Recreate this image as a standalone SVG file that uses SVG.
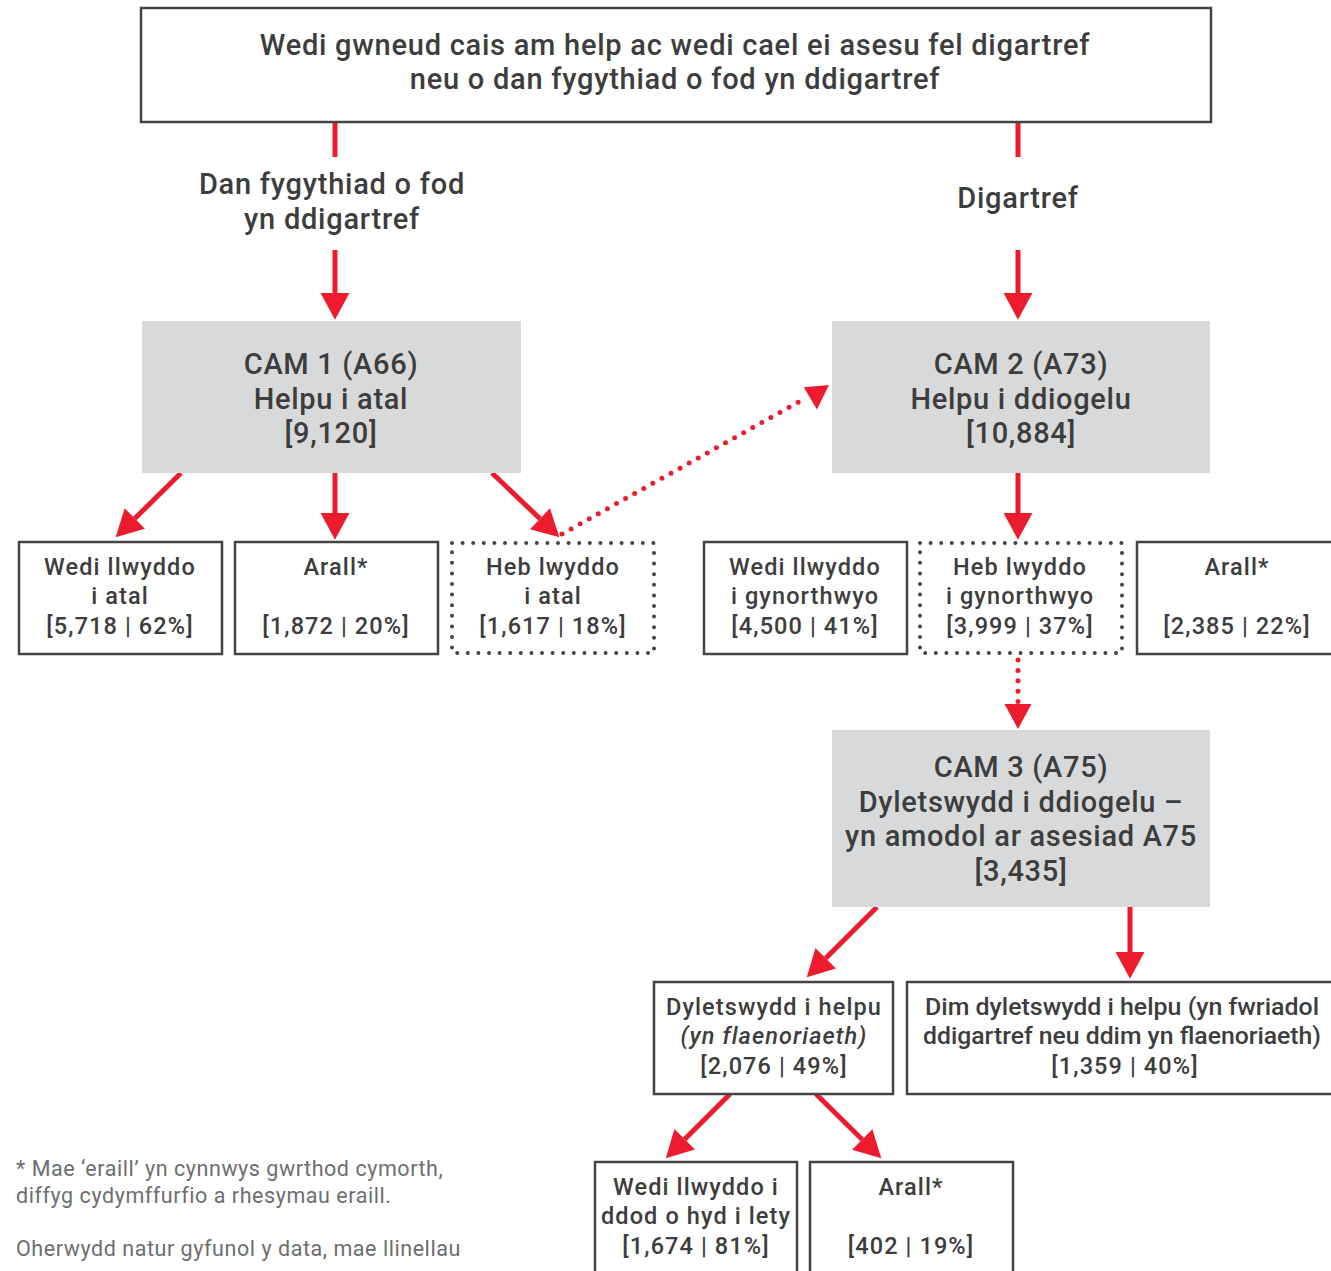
<svg xmlns="http://www.w3.org/2000/svg" width="1331" height="1271" viewBox="0 0 1331 1271">
<style>
text{font-family:Roboto,"Open Sans","Liberation Sans",sans-serif;fill:#3d3d3d;text-anchor:middle;font-weight:500}
.h{font-size:29px;letter-spacing:0.75px}
.cam{font-size:29px;letter-spacing:0.7px}
.b{font-size:23.5px;letter-spacing:1.1px}
.nl{letter-spacing:0}
.it{font-style:italic}
.fn{font-size:21.5px;font-weight:400;fill:#6d6e71;text-anchor:start;letter-spacing:0.55px}
.box{fill:#fff;stroke:#444;stroke-width:2.5}
.dot{fill:#fff;stroke:#444;stroke-width:4;stroke-dasharray:0 10.6;stroke-linecap:round}
.grey{fill:#d8d9db}
.ln{stroke:#ec1c2e;stroke-width:5;fill:none}
.dl{stroke:#ec1c2e;stroke-width:5;fill:none;stroke-dasharray:0 10.4;stroke-linecap:round}
.hd{fill:#ec1c2e}
</style>
<defs>
<marker id="ah" markerUnits="userSpaceOnUse" markerWidth="30" markerHeight="30" viewBox="0 -14 26 28" refX="0" refY="0" orient="auto">
<path d="M0,-13.5 L25,0 L0,13.5 Z" fill="#ec1c2e"/>
</marker>
</defs>
<rect width="1331" height="1271" fill="#fff"/>

<g id="connectors">
<line class="ln" x1="335" y1="122" x2="335" y2="157"/>
<line class="ln" x1="335" y1="250" x2="335" y2="293" marker-end="url(#ah)"/>
<line class="ln" x1="1018" y1="122" x2="1018" y2="157"/>
<line class="ln" x1="1018" y1="250" x2="1018" y2="293" marker-end="url(#ah)"/>
<line class="ln" x1="181" y1="473" x2="134.8" y2="518.5" marker-end="url(#ah)"/>
<line class="ln" x1="335" y1="473" x2="335" y2="513" marker-end="url(#ah)"/>
<line class="ln" x1="492" y1="473" x2="540" y2="518.7" marker-end="url(#ah)"/>
<line class="dl" x1="562" y1="534" x2="804" y2="399"/>
<polygon class="hd" points="803.8,387.2 829,385 816.9,409.4"/>
<line class="ln" x1="1018" y1="473" x2="1018" y2="513" marker-end="url(#ah)"/>
<line class="dl" x1="1018" y1="660" x2="1018" y2="702"/>
<polygon class="hd" points="1004.5,704 1031.5,704 1018,729"/>
<line class="ln" x1="877" y1="907" x2="825.7" y2="958.3" marker-end="url(#ah)"/>
<line class="ln" x1="1130" y1="907" x2="1130" y2="952" marker-end="url(#ah)"/>
<line class="ln" x1="730" y1="1094" x2="684.7" y2="1139.3" marker-end="url(#ah)"/>
<line class="ln" x1="816" y1="1094" x2="862.2" y2="1139.5" marker-end="url(#ah)"/>
</g>

<g id="top">
<rect class="box" x="141" y="8" width="1070" height="114"/>
<text class="h" x="675" y="55">Wedi gwneud cais am help ac wedi cael ei asesu fel digartref</text>
<text class="h" x="675" y="89">neu o dan fygythiad o fod yn ddigartref</text>
</g>
<g id="label-threat">
<text class="h" x="332" y="194">Dan fygythiad o fod</text>
<text class="h" x="332" y="229">yn ddigartref</text>
</g>
<g id="label-homeless">
<text class="h" x="1018" y="208">Digartref</text>
</g>

<g id="cam1">
<rect class="grey" x="142" y="321" width="379" height="152"/>
<text class="cam" x="331" y="374">CAM 1 (A66)</text>
<text class="cam" x="331" y="409">Helpu i atal</text>
<text class="cam" x="331" y="443">[9,120]</text>
</g>
<g id="cam2">
<rect class="grey" x="832" y="321" width="378" height="152"/>
<text class="cam" x="1021" y="374">CAM 2 (A73)</text>
<text class="cam" x="1021" y="409">Helpu i ddiogelu</text>
<text class="cam" x="1021" y="443">[10,884]</text>
</g>

<g id="a-success">
<rect class="box" x="19" y="542" width="203" height="112"/>
<text class="b" x="120" y="575">Wedi llwyddo</text>
<text class="b" x="120" y="604">i atal</text>
<text class="b" x="120" y="634">[5,718 | 62%]</text>
</g>
<g id="a-other">
<rect class="box" x="235" y="542" width="203" height="112"/>
<text class="b" x="336" y="575">Arall*</text>
<text class="b" x="336" y="634">[1,872 | 20%]</text>
</g>
<g id="a-fail">
<rect class="dot" x="452" y="543" width="202" height="110"/>
<text class="b" x="553" y="575">Heb lwyddo</text>
<text class="b" x="553" y="604">i atal</text>
<text class="b" x="553" y="634">[1,617 | 18%]</text>
</g>
<g id="b-success">
<rect class="box" x="704" y="542" width="203" height="112"/>
<text class="b" x="805" y="575">Wedi llwyddo</text>
<text class="b" x="805" y="604">i gynorthwyo</text>
<text class="b" x="805" y="634">[4,500 | 41%]</text>
</g>
<g id="b-fail">
<rect class="dot" x="920" y="543" width="202" height="110"/>
<text class="b" x="1020" y="575">Heb lwyddo</text>
<text class="b" x="1020" y="604">i gynorthwyo</text>
<text class="b" x="1020" y="634">[3,999 | 37%]</text>
</g>
<g id="b-other">
<rect class="box" x="1137" y="542" width="210" height="112"/>
<text class="b" x="1237" y="575">Arall*</text>
<text class="b" x="1237" y="634">[2,385 | 22%]</text>
</g>

<g id="cam3">
<rect class="grey" x="832" y="730" width="378" height="177"/>
<text class="cam" x="1021" y="777">CAM 3 (A75)</text>
<text class="cam" x="1021" y="812">Dyletswydd i ddiogelu –</text>
<text class="cam" x="1021" y="846">yn amodol ar asesiad A75</text>
<text class="cam" x="1021" y="881">[3,435]</text>
</g>

<g id="c-duty">
<rect class="box" x="654" y="982" width="239" height="112"/>
<text class="b" x="774" y="1015">Dyletswydd i helpu</text>
<text class="b it" x="774" y="1044">(yn flaenoriaeth)</text>
<text class="b" x="774" y="1074">[2,076 | 49%]</text>
</g>
<g id="c-noduty">
<rect class="box" x="907" y="982" width="440" height="112"/>
<text class="b nl" x="1122" y="1015" textLength="394" lengthAdjust="spacingAndGlyphs">Dim dyletswydd i helpu (yn fwriadol</text>
<text class="b nl" x="1122" y="1044" textLength="398" lengthAdjust="spacingAndGlyphs">ddigartref neu ddim yn flaenoriaeth)</text>
<text class="b" x="1125" y="1074">[1,359 | 40%]</text>
</g>

<g id="d-success">
<rect class="box" x="595" y="1162" width="202" height="120"/>
<text class="b" x="696" y="1195">Wedi llwyddo i</text>
<text class="b" x="696" y="1224">ddod o hyd i lety</text>
<text class="b" x="696" y="1254">[1,674 | 81%]</text>
</g>
<g id="d-other">
<rect class="box" x="810" y="1162" width="203" height="120"/>
<text class="b" x="911" y="1195">Arall*</text>
<text class="b" x="911" y="1254">[402 | 19%]</text>
</g>

<g id="footnote">
<text class="fn" x="16" y="1176">* Mae ‘eraill’ yn cynnwys gwrthod cymorth,</text>
<text class="fn" x="16" y="1203">diffyg cydymffurfio a rhesymau eraill.</text>
<text class="fn" x="16" y="1256">Oherwydd natur gyfunol y data, mae llinellau</text>
</g>
</svg>
